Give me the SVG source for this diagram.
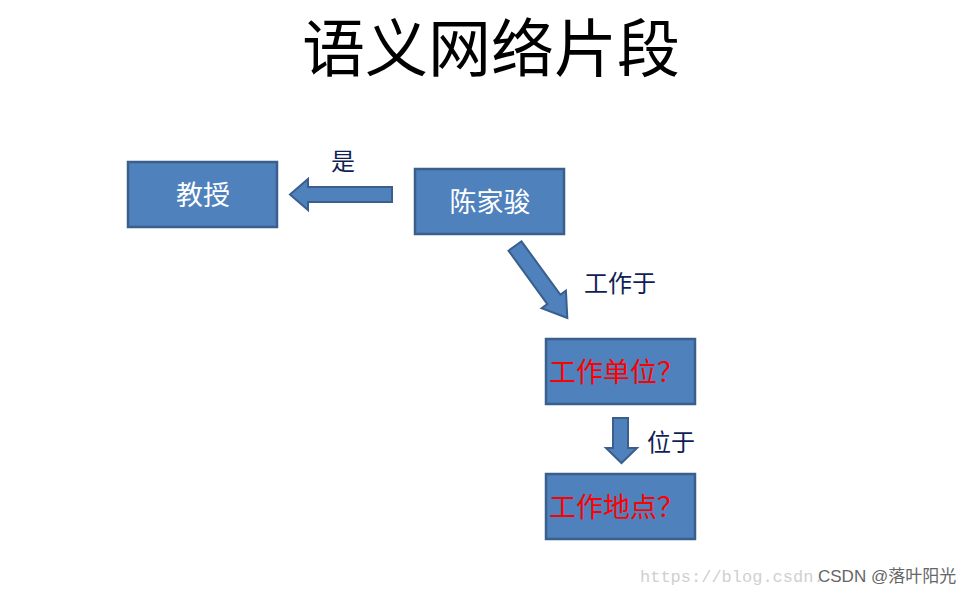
<svg xmlns="http://www.w3.org/2000/svg" width="970" height="595" viewBox="0 0 970 595">
<style>
.box{fill:#4F81BD;stroke:#3A5F8C;stroke-width:2.5}
.arr{fill:#4F81BD;stroke:#3A5F8C;stroke-width:2}
.wt{font-family:"Noto Sans CJK SC","Liberation Sans",sans-serif;font-size:27px;fill:#FFFFFF;text-anchor:middle}
.rt{font-family:"Noto Sans CJK SC","Liberation Sans",sans-serif;font-size:27px;fill:#FF0000}
.lb{font-family:"Noto Sans CJK SC","Liberation Sans",sans-serif;font-size:24px;fill:#0F1F55}
</style>
<rect width="970" height="595" fill="#FFFFFF"/>
<text x="491" y="71" font-family="'Noto Sans CJK SC','Liberation Sans',sans-serif" font-size="63" fill="#000000" text-anchor="middle">语义网络片段</text>
<g id="connectors">
<polygon class="arr" points="392,187 308,187 308,179 290,194.5 308,210 308,202 392,202"/>
<polygon class="arr" transform="translate(515,246) rotate(54)" points="0,-8 66,-8 66,-15 89,0 66,15 66,8 0,8"/>
<polygon class="arr" points="613,418 628,418 628,448 637,448 621.5,463 606,448 613,448"/>
<text class="lb" x="331" y="170">是</text>
<text class="lb" x="584" y="292">工作于</text>
<text class="lb" x="647" y="451">位于</text>
</g>
<g id="node-jiaoshou">
<rect class="box" x="128" y="162" width="149" height="65"/>
<text class="wt" x="203" y="205">教授</text>
</g>
<g id="node-chenjiajun">
<rect class="box" x="415" y="169" width="149" height="65"/>
<text class="wt" x="490" y="212">陈家骏</text>
</g>
<g id="node-danwei">
<rect class="box" x="546" y="339" width="149" height="65"/>
<text class="rt" x="549" y="382">工作单位？</text>
</g>
<g id="node-didian">
<rect class="box" x="546" y="474" width="149" height="65"/>
<text class="rt" x="549" y="517">工作地点？</text>
</g>
<text x="640" y="582" font-family="'Liberation Mono',monospace" font-size="17" fill="#D0D0D0">https://blog.csdn.</text>
<text x="818" y="582" font-family="'Liberation Sans','Noto Sans CJK SC',sans-serif" font-size="17" fill="#666666">CSDN @落叶阳光</text>
</svg>
